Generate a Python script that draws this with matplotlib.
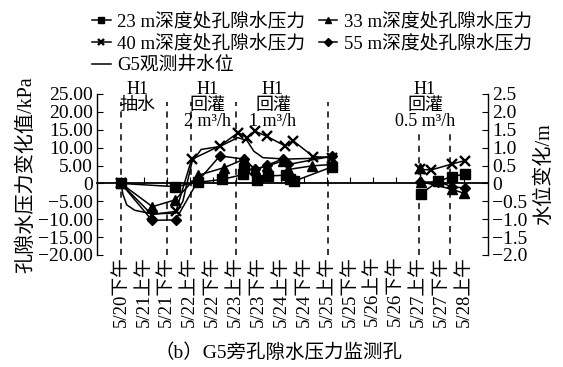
import matplotlib
matplotlib.use("Agg")
import matplotlib.pyplot as plt
import numpy as np

plt.rcParams.update({
    "font.family": ["Liberation Serif", "Noto Sans CJK SC"],
    "font.size": 13,
    "axes.linewidth": 1.0,
})

nan = np.nan

# 横轴分类（半天为一格）
labels = ["5/20下午", "5/21上午", "5/21下午", "5/22上午", "5/22下午", "5/23上午",
          "5/23下午", "5/24上午", "5/24下午", "5/25上午", "5/25下午", "5/26上午",
          "5/26下午", "5/27上午", "5/27下午", "5/28上午"]

# 各深度孔隙水压力变化 (kPa)，时间以分类格为单位
t23 = [0, 2.36, 3.35, 4.4, 5.33, 5.38, 5.93, 6.43, 7.22, 7.4, 7.55, 9.2, nan, 13.09, 13.86, 14.44, 15.02]
v23 = [0, -0.9, 0.3, 1.1, 2.5, 4.2, 0.9, 2.1, 2.3, 1.2, 0.6, 4.6, nan, -2.9, 0.6, 1.9, 2.6]

t33 = [0, 1.37, 2.36, 3.38, 4.5, 5.38, 5.85, 6.39, 7.08, 7.3, 8.33, 9.2, nan, 13.06, 13.1, 14.44, 15.0]
v33 = [0, -6.5, -4.6, 2.3, 4.4, 6.8, 3.9, 4.9, 6.3, 3.9, 4.9, 5.3, nan, 4.2, 0.5, -1.6, -2.8]

t40 = [0, 1.34, 2.4, 3.08, 4.32, 5.12, 5.49, 5.85, 6.36, 7.16, 7.52, 8.4, 9.2, nan, 13.06, 13.56, 14.44, 15.02]
v40 = [0, -8.7, -7.8, 6.7, 10.5, 14.2, 12.8, 14.6, 13.2, 10.5, 11.9, 7.5, 7.2, nan, 3.9, 3.8, 5.4, 6.4]

t55 = [0, 1.35, 2.38, 3.35, 4.32, 5.38, 5.85, 6.39, 7.08, 7.3, 9.2, nan, 13.06, 13.86, 14.44, 15.02]
v55 = [0, -10.3, -10.2, 0.6, 7.7, 6.8, 3.9, 5.1, 6.9, 5.3, 7.6, nan, 0.3, 0.5, -0.9, -1.3]

# G5观测井水位变化 (m)
tg = [0, 0.08, 0.25, 0.6, 1.35, 2.4, 2.7, 3.1, 3.5, 4.3, 5.1, 5.5, 5.8, 6.2, 7.2, 8.3, 9.2]
vg = [0, -0.3, -0.6, -0.75, -0.85, -0.83, -0.5, 0.6, 0.95, 1.03, 1.28, 1.2, 0.9, 0.72, 0.68, 0.7, 0.75]

# 工况分界线
events = [0, 2.0, 3.06, 5.0, 9.04, 13.0, 14.37]
event_top = [22.8, 22.8, 22.8, 22.8, 22.8, 15.2, 15.2]
stages = [(0.72, "H1\n抽水"), (3.76, "H1\n回灌\n2 m³/h"), (6.64, "H1\n回灌\n1 m³/h"),
          (13.28, "H1\n回灌\n0.5 m³/h")]

fig = plt.figure(figsize=(5.63, 3.67), dpi=100)
ax = fig.add_axes([0.1723, 0.3052, 0.6945, 0.4387])
ax2 = ax.twinx()

ax.set_xlim(-1.05, 16.03)
ax.set_ylim(-20, 25)
ax2.set_ylim(-2.0, 2.5)

l1, = ax.plot(t23, v23, "k-", marker="s", ms=6.5, lw=1.1, label="23 m深度处孔隙水压力")
l2, = ax.plot(t33, v33, "k-", marker="^", ms=7, lw=1.1, label="33 m深度处孔隙水压力")
l3, = ax.plot(t40, v40, "k-", marker="x", ms=6.5, mew=1.7, lw=1.1, label="40 m深度处孔隙水压力")
l4, = ax.plot(t55, v55, "k-", marker="D", ms=5.5, lw=1.1, label="55 m深度处孔隙水压力")
l5, = ax2.plot(tg, vg, "k-", lw=1.1, label="G5观测井水位")

ax.vlines(events, -20, event_top, colors="k", linestyles=(0, (4, 3.5)), lw=1.1)
for x, s in stages:
    ax.text(x, 28.7, s, ha="center", va="top", fontsize=13, linespacing=0.92)

# 坐标轴样式
for side in ("top", "right"):
    ax.spines[side].set_visible(False)
for side in ("top", "left", "bottom"):
    ax2.spines[side].set_visible(False)
ax.spines["bottom"].set_position(("data", 0))
ax.spines["bottom"].set_linewidth(1.3)

ax.set_xticks(range(len(labels)))
ax.set_xticklabels(labels, rotation=90, fontsize=13.5)
ax.tick_params(axis="x", direction="in", length=4, pad=52)
ax.set_yticks(np.arange(-20, 26, 5))
ax.set_yticklabels(["0" if v == 0 else f"{v:.2f}".replace("-", "\u2212") for v in np.arange(-20, 26, 5)])
ax.tick_params(axis="y", direction="in", length=4, labelsize=14, pad=3)
ax2.set_yticks(np.arange(-2.0, 2.6, 0.5))
ax2.set_yticklabels(["0" if abs(v) < 1e-9 else f"{v:.1f}".replace("-", "\u2212") for v in np.arange(-2.0, 2.6, 0.5)])
ax2.tick_params(axis="y", direction="in", length=4, labelsize=14, pad=3)

ax.set_ylabel("孔隙水压力变化值/kPa", fontsize=14.5, labelpad=1)
ax2.set_ylabel("水位变化/m", fontsize=14.5, labelpad=5)

fig.legend(handles=[l1, l3, l5, l2, l4], ncol=2, loc="upper left",
           bbox_to_anchor=(0.15, 0.985), frameon=False, fontsize=13.5,
           handlelength=1.0, handletextpad=0.35, columnspacing=0.7,
           labelspacing=0.2, borderaxespad=0, markerscale=0.7)

fig.text(0.495, 0.038, "（b）G5旁孔隙水压力监测孔", ha="center", va="center", fontsize=14)

fig.savefig("out.png", dpi=100)
